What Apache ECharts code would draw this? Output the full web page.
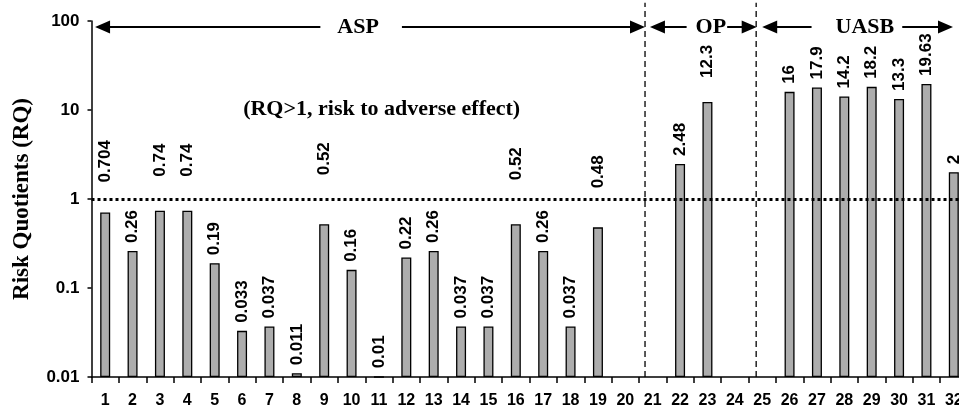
<!DOCTYPE html>
<html><head><meta charset="utf-8">
<script src="https://cdn.jsdelivr.net/npm/echarts@6/dist/echarts.min.js"></script>
<style>html,body{margin:0;padding:0;background:#fff}#c{width:959px;height:413px}</style>
</head><body><div id="c"></div>
<script>
// ---------- data ----------
const categories = ['1','2','3','4','5','6','7','8','9','10','11','12','13','14','15','16','17','18','19','20','21','22','23','24','25','26','27','28','29','30','31','32'];
const rqValues = [0.704,0.26,0.74,0.74,0.19,0.033,0.037,0.011,0.52,0.16,0.01,0.22,0.26,0.037,0.037,0.52,0.26,0.037,0.48,null,null,2.48,12.3,null,null,16,17.9,14.2,18.2,13.3,19.63,2];
const yTickLabels = ['0.01','0.1','1','10','100'];
const riskThreshold = 1;
const thresholdNote = '(RQ>1, risk to adverse effect)';
const groupNames = ['ASP','OP','UASB'];
// group extents in category-index units (category k is centred at k)
const groupStart = [0.63, 20.9, 25.0];
const groupEnd = [20.72, 24.8, 31.97];
const groupLabelAt = [10.35, 22.98, 28.46];
const dividers = [20.72, 24.78];

// ---------- style ----------
const SANS = 'Liberation Sans, Arial, sans-serif';
const SERIF = 'Liberation Serif, Times New Roman, serif';
const labelLift = {0:22, 2:26, 3:26, 8:41, 15:36, 18:31, 22:16};
const groupPad = [[0, 23, 0, 17], [0, 1, 0, 9], [0, 8, 0, 24]];
const arrowY = 85.6;      // value level of the group arrows
const dividerTop = 160;   // value level where divider lines end (above plot)
const noteAt = [11.1, 10.3];

const chart = echarts.init(document.getElementById('c'));
const barData = rqValues.map((v, i) => {
  const o = {value: v};
  if (labelLift[i]) o.label = {offset: [labelLift[i], 0]};
  return o;
});

const option = {
  animation: false,
  grid: {left: 91.5, width: 876, top: 21, bottom: 36, containLabel: false, outerBoundsMode: 'none'},
  xAxis: [{
    type: 'category', data: categories, boundaryGap: true,
    axisLine: {lineStyle: {color: '#000', width: 1.5}},
    axisTick: {show: true, length: 6, lineStyle: {color: '#000', width: 1.5}},
    axisLabel: {interval: 0, color: '#000', fontFamily: SANS, fontWeight: 'bold', fontSize: 16, margin: 16, hideOverlap: false},
    splitLine: {show: false}
  }, {
    type: 'value', min: 0.5, max: 32.5, show: false, position: 'bottom'
  }],
  yAxis: {
    type: 'log', logBase: 10, min: 0.01, max: 100, startValue: 0.01,
    axisLine: {show: true, lineStyle: {color: '#000', width: 1.5}},
    axisTick: {show: true, inside: false, length: 4, lineStyle: {color: '#000', width: 1.5}},
    axisLabel: {color: '#000', fontFamily: SANS, fontWeight: 'bold', fontSize: 17, margin: 12,
      formatter: v => yTickLabels[Math.round(Math.log10(v)) + 2]},
    splitLine: {show: false}, minorTick: {show: false},
    name: 'Risk Quotients (RQ)', nameLocation: 'middle', nameGap: 58,
    nameTextStyle: {fontFamily: SERIF, fontWeight: 'bold', fontSize: 23, color: '#000'}
  },
  series: [{
    type: 'line', xAxisIndex: 1, yAxisIndex: 0, data: [], z: 1, silent: true,
    markLine: {
      silent: true, animation: false, symbol: 'none', label: {show: false},
      data: [
        [{coord: [0.5, riskThreshold]}, {coord: [32.5, riskThreshold]}]
      ],
      lineStyle: {type: [3, 3], width: 3, color: '#000'}
    },
    markPoint: {
      silent: true, symbol: 'rect', symbolSize: 1, itemStyle: {color: 'rgba(0,0,0,0)'},
      label: {show: true, position: 'inside', formatter: thresholdNote, color: '#000', fontFamily: SERIF, fontWeight: 'bold', fontSize: 22},
      data: [{coord: noteAt}]
    }
  }, {
    type: 'custom', name: 'dividers', xAxisIndex: 1, yAxisIndex: 0, clip: false, silent: true, z: 1,
    data: dividers.map(d => [d, dividerTop]),
    renderItem: (params, api) => {
      const a = api.coord([api.value(0), 0.01]);
      const b = api.coord([api.value(0), api.value(1)]);
      return {type: 'line', shape: {x1: a[0], y1: a[1], x2: b[0], y2: b[1]},
        style: {stroke: '#000', lineWidth: 1.3, lineDash: [6, 4]}};
    }
  }, {
    type: 'custom', name: 'groups', xAxisIndex: 1, yAxisIndex: 0, clip: false, silent: true, z: 6,
    data: groupNames.map((n, i) => [groupStart[i], arrowY, groupEnd[i], groupLabelAt[i], i]),
    renderItem: (params, api) => {
      const i = api.value(4);
      const y = api.value(1);
      const p0 = api.coord([api.value(0), y]);
      const p1 = api.coord([api.value(2), y]);
      const pt = api.coord([api.value(3), y]);
      const L = 15, H = 6.5;
      return {type: 'group', children: [
        {type: 'line', shape: {x1: p0[0] + L - 2, y1: p0[1], x2: p1[0] - L + 2, y2: p1[1]}, style: {stroke: '#000', lineWidth: 2.2}},
        {type: 'polygon', shape: {points: [[p0[0], p0[1]], [p0[0] + L, p0[1] - H], [p0[0] + L, p0[1] + H]]}, style: {fill: '#000'}},
        {type: 'polygon', shape: {points: [[p1[0], p1[1]], [p1[0] - L, p1[1] - H], [p1[0] - L, p1[1] + H]]}, style: {fill: '#000'}},
        {type: 'text', style: {text: groupNames[i], x: pt[0], y: pt[1], align: 'center', verticalAlign: 'middle',
          fontFamily: SERIF, fontWeight: 'bold', fontSize: 22, fill: '#000', backgroundColor: '#fff', padding: groupPad[i]}}
      ]};
    }
  }, {
    type: 'bar', data: barData, barWidth: 10, z: 3,
    itemStyle: {color: '#adadad', borderColor: '#000', borderWidth: 1.3},
    label: {show: true, position: 'top', rotate: 90, align: 'left', verticalAlign: 'middle', distance: 8,
      fontFamily: SANS, fontWeight: 'bold', fontSize: 17, color: '#000',
      formatter: p => (p.value == null ? '' : String(p.value))}
  }]
};
chart.setOption(option);
</script></body></html>
